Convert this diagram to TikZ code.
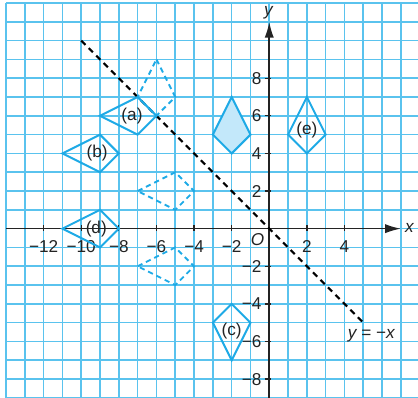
\documentclass[tikz,border=0pt]{standalone}
\usepackage{fontspec}
\setmainfont{Liberation Sans}
\usetikzlibrary{arrows.meta}
\definecolor{gridc}{RGB}{90,195,238}
\definecolor{kitec}{RGB}{30,170,230}
\definecolor{kitefill}{RGB}{195,232,250}
\definecolor{axisc}{RGB}{35,35,35}
\begin{document}
\begin{tikzpicture}[x=0.5cm,y=0.5cm,
  font=\fontsize{13}{15}\selectfont,
  gridline/.style={gridc, line width=1.2pt},
  kite/.style={kitec, line width=1.5pt, line join=miter},
  dkite/.style={kitec, line width=1.4pt, dash pattern=on 4pt off 3pt},
  axisline/.style={axisc, line width=1.2pt},
  tickmark/.style={axisc, line width=1pt},
  mirror/.style={black, line width=1.6pt, dash pattern=on 4.5pt off 3.5pt},
  lab/.style={inner sep=0pt, text=axisc},
  kitelab/.style={inner sep=0pt, text=axisc}]
\useasboundingbox (-14.32,-9.0) rectangle (7.91,12.16);
% grid
\begin{scope}
\clip (-14.32,-9.0) rectangle (7.91,12.16);
\foreach \x in {-14,...,7} \draw[gridline] (\x,-9.4) -- (\x,12);
\foreach \y in {-9,...,12} \draw[gridline] (-14,\y) -- (8.2,\y);
\end{scope}
% axes
\coordinate (xs) at (-14,0);
\coordinate (xe) at (7,0);
\coordinate (ys) at (0,-9.4);
\coordinate (ye) at (0,11);
\draw[axisline, -{Latex[length=12pt,width=7pt]}] (xs) -- (xe);
\draw[axisline, -{Latex[length=12pt,width=7pt]}] (ys) -- (ye);
\foreach \x in {-12,-10,-8,-6,-4,-2,2,4} {
  \draw[tickmark] (\x,-0.1) -- (\x,0.22);
  \node[lab] (xl\x) at (\x,-0.97) {\ifnum\x<0 −\the\numexpr-\x\relax\else\x\fi};
}
\foreach \y in {-8,-6,-4,-2,2,4,6,8} {
  \draw[tickmark] (-0.25,\y) -- (0.1,\y);
  \node[lab, anchor=east] (yl\y) at (-0.4,\y) {\ifnum\y<0 −\the\numexpr-\y\relax\else\y\fi};
}
\node[lab] (xlab) at (7.45,0.05) {\itshape x};
\node[lab] (ylab) at (-0.05,11.5) {\itshape y};
\node[lab] (olab) at (-0.62,-0.6) {\itshape O};
% mirror line
\coordinate (m1) at (-10,10);
\coordinate (m2) at (5,-5);
\draw[mirror] (m1) -- (m2);
\node[lab] (mlab) at (5.43,-5.72) {{\itshape y} = −{\itshape x}};
% shaded original kite
\fill[kitefill] (-2,7) -- (-1,5) -- (-2,4) -- (-3,5) -- cycle;
\draw[kite] (-2,7) -- (-1,5) -- (-2,4) -- (-3,5) -- cycle;
% (e)
\draw[kite] (2,7) -- (3,5) -- (2,4) -- (1,5) -- cycle;
\node[kitelab] (le) at (2,5.25) {(e)};
% (a)
\draw[kite] (-9,6) -- (-7,7) -- (-6,6) -- (-7,5) -- cycle;
\node[kitelab] (la) at (-7.3,6) {(a)};
% (b)
\draw[kite] (-11,4) -- (-9,5) -- (-8,4) -- (-9,3) -- cycle;
\node[kitelab] (lb) at (-9.15,4) {(b)};
% (c)
\draw[kite] (-2,-4) -- (-1,-5) -- (-2,-7) -- (-3,-5) -- cycle;
\node[kitelab] (lc) at (-2,-5.45) {(c)};
% (d)
\draw[kite] (-11,0) -- (-9,1) -- (-8,0) -- (-9,-1) -- cycle;
\node[kitelab] (ld) at (-9.2,0) {(d)};
% dashed kites
\draw[dkite] (-6,9) -- (-5,7) -- (-6,6) -- (-7,7) -- cycle;
\draw[dkite] (-7,2) -- (-5,3) -- (-4,2) -- (-5,1) -- cycle;
\draw[dkite] (-7,-2) -- (-5,-1) -- (-4,-2) -- (-5,-3) -- cycle;
\end{tikzpicture}
\end{document}
